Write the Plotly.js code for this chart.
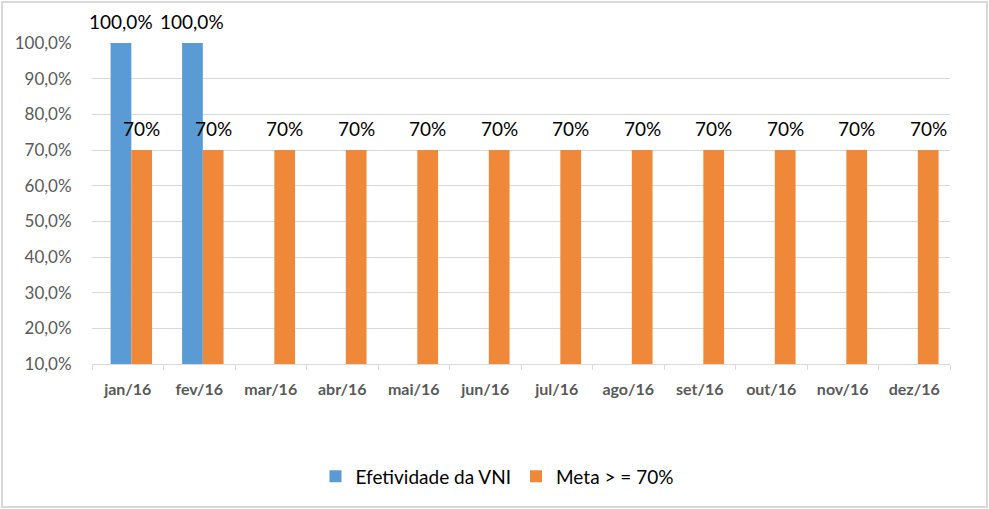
<!DOCTYPE html>
<html>
<head>
<meta charset="utf-8">
<script src="https://cdn.plot.ly/plotly-3.0.1.min.js"></script>
<style>
html,body{margin:0;padding:0;background:#fff;}
#wrap{position:relative;width:989px;height:509px;}
#chart{width:989px;height:509px;}
#frame{position:absolute;left:1px;top:1px;width:983px;height:503px;border:2px solid #d9d9d9;pointer-events:none;}
</style>
</head>
<body>
<div id="wrap"><div id="chart"></div><div id="frame"></div></div>
<script>
var months = ['jan/16','fev/16','mar/16','abr/16','mai/16','jun/16','jul/16','ago/16','set/16','out/16','nov/16','dez/16'];
var efetividade = [1.0, 1.0, null, null, null, null, null, null, null, null, null, null];
var meta = [0.7, 0.7, 0.7, 0.7, 0.7, 0.7, 0.7, 0.7, 0.7, 0.7, 0.7, 0.7];
var seriesNames = ['Efetividade da VNI', 'Meta > = 70%'];

var font = 'Lato, "Open Sans", sans-serif';
var BW = 0.29;            // bar width in category units
var OFF_BLUE = -0.24;     // bar offsets (category units)
var OFF_ORANGE = 0.05;

var traces = [
  {
    type:'bar', name:seriesNames[0], x:months, y:efetividade,
    width:BW, offset:OFF_BLUE,
    marker:{color:'#5B9BD5'}
  },
  {
    type:'bar', name:seriesNames[1], x:months, y:meta,
    width:BW, offset:OFF_ORANGE,
    marker:{color:'#F0883A'}
  }
];

// data labels as annotations anchored on the data values
var annotations = [];
var catW = (989 - 92 - 39) / months.length;
function addLabels(vals, fmt, off) {
  vals.forEach(function(v, i) {
    if (v === null) return;
    annotations.push({
      x: months[i], y: v, xref:'x', yref:'y',
      text: fmt(v), showarrow:false,
      xshift: (off + BW/2) * catW, yshift: 22, yanchor:'middle', xanchor:'center',
      font:{family:font, size:19, color:'#000'}
    });
  });
}
addLabels(efetividade, function(v){ return (v*100).toFixed(1).replace('.', ',') + '%'; }, OFF_BLUE);
addLabels(meta, function(v){ return Math.round(v*100) + '%'; }, OFF_ORANGE);

var layout = {
  width:989, height:509,
  separators:',.',
  paper_bgcolor:'#fff', plot_bgcolor:'#fff',
  margin:{l:92, r:39, t:43, b:145, autoexpand:false},
  barmode:'group',
  font:{family:font, color:'#595959'},
  annotations: annotations,
  xaxis:{
    type:'category', range:[-0.5, 11.5], showgrid:false, showline:true, linecolor:'#d9d9d9', linewidth:1,
    ticks:'outside', tickson:'boundaries', ticklen:5, tickcolor:'#d9d9d9',
    ticklabelstandoff:11, automargin:false,
    tickfont:{family:font, size:16, color:'#595959', weight:'bold'}
  },
  yaxis:{
    range:[0.1, 1.0], dtick:0.1, tick0:0.1, tickformat:'.1%',
    showgrid:true, gridcolor:'#d9d9d9', gridwidth:1, zeroline:false,
    showline:false, ticks:'outside', ticklen:16, tickcolor:'rgba(0,0,0,0)', automargin:false,
    tickfont:{family:font, size:17, color:'#595959'}
  },
  showlegend:true,
  legend:{orientation:'h', x:0.472, xanchor:'center', y:-0.35, yanchor:'middle',
    font:{family:font, size:19, color:'#000'}, itemwidth:30, traceorder:'normal'}
};

Plotly.newPlot('chart', traces, layout, {displayModeBar:false, staticPlot:true});
</script>
</body>
</html>
